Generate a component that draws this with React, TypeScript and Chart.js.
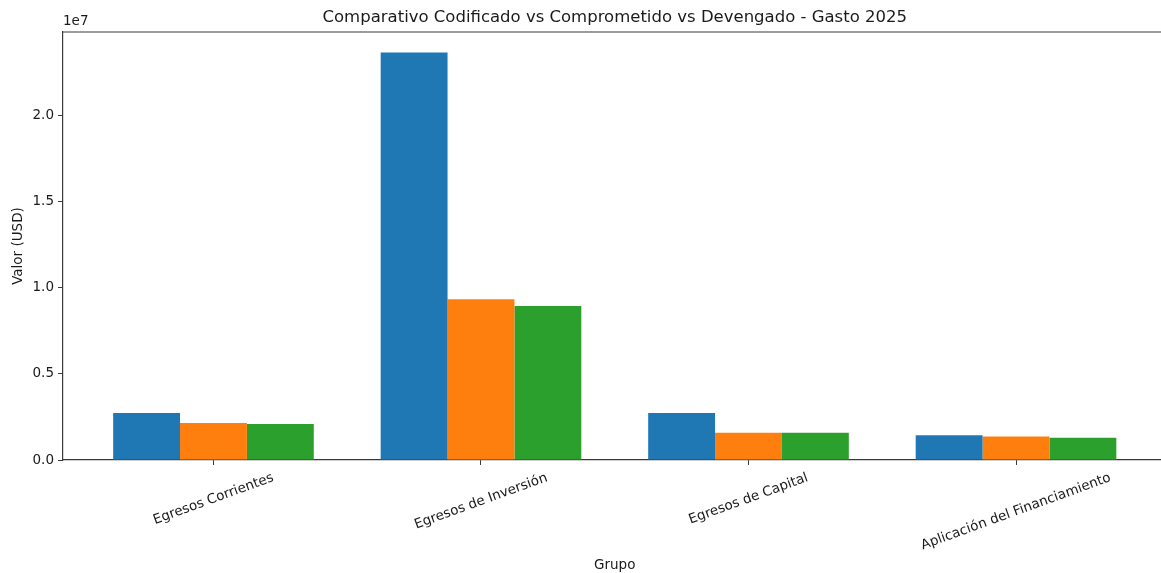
import React, { useEffect, useRef } from 'react';
import { Chart, registerables } from 'chart.js';

Chart.register(...registerables);

const categories = ['Egresos Corrientes', 'Egresos de Inversión', 'Egresos de Capital', 'Aplicación del Financiamiento'];
const codificado = [2720000, 23650000, 2720000, 1430000];
const comprometido = [2140000, 9320000, 1580000, 1370000];
const devengado = [2090000, 8930000, 1580000, 1290000];
const seriesNames = ['Codificado', 'Comprometido', 'Devengado'];
const seriesColors = ['#1f77b4', '#ff7f0e', '#2ca02c'];
const yTickValues = [0, 5e6, 1e7, 1.5e7, 2e7];
const titleText = 'Comparativo Codificado vs Comprometido vs Devengado - Gasto 2025';
const yLabel = 'Valor (USD)';
const xLabel = 'Grupo';
const offsetText = '1e7';

const FONT = "'DejaVu Sans', sans-serif";
const TEXT = '#1a1a1a';
const SPINE = '#3a3a3a';

export default function App() {
  const ref = useRef<HTMLCanvasElement | null>(null);

  useEffect(() => {
    const canvas = ref.current;
    if (!canvas) return;
    document.body.style.margin = '0';
    document.body.style.overflow = 'hidden';

    const n = categories.length;
    const xMin = -0.375 - 0.05 * (n - 1 + 0.75);
    const xMax = n - 1 + 0.375 + 0.05 * (n - 1 + 0.75);
    const allValues = [...codificado, ...comprometido, ...devengado];
    const yMax = Math.max(...allValues) * 1.05;

    const decor = {
      id: 'decor',
      afterDraw(chart: any) {
        const { ctx, chartArea } = chart;
        const { left, right, top, bottom } = chartArea;
        ctx.save();
        // top and right spines
        ctx.strokeStyle = SPINE;
        ctx.lineWidth = 1.2;
        ctx.beginPath();
        ctx.moveTo(left, top);
        ctx.lineTo(right, top);
        ctx.lineTo(right, bottom);
        ctx.stroke();

        ctx.fillStyle = TEXT;
        // title
        ctx.font = `16.5px ${FONT}`;
        ctx.textAlign = 'center';
        ctx.textBaseline = 'bottom';
        ctx.fillText(titleText, (left + right) / 2, top - 6);

        // offset text
        ctx.font = `13.5px ${FONT}`;
        ctx.textAlign = 'left';
        ctx.textBaseline = 'bottom';
        ctx.fillText(offsetText, left, top - 4);

        // y label
        ctx.save();
        ctx.translate(18, (top + bottom) / 2);
        ctx.rotate(-Math.PI / 2);
        ctx.textAlign = 'center';
        ctx.textBaseline = 'middle';
        ctx.fillText(yLabel, 0, 0);
        ctx.restore();

        // x tick labels, rotated 20deg, centered bbox
        const xs = chart.scales.x;
        const ang = (20 * Math.PI) / 180;
        const h = 13.5 * 1.17;
        const labelTop = bottom + 10;
        categories.forEach((c, i) => {
          const px = xs.getPixelForValue(i);
          const w = ctx.measureText(c).width;
          const H = w * Math.sin(ang) + h * Math.cos(ang);
          const cy = labelTop + H / 2;
          ctx.save();
          ctx.translate(px, cy);
          ctx.rotate(-ang);
          ctx.textAlign = 'center';
          ctx.textBaseline = 'middle';
          ctx.fillText(c, 0, 0);
          ctx.restore();
        });

        // x label
        ctx.textAlign = 'center';
        ctx.textBaseline = 'middle';
        ctx.fillText(xLabel, (left + right) / 2, 565);
        ctx.restore();
      },
    };

    const datasets = [codificado, comprometido, devengado].map((vals, k) => ({
      label: seriesNames[k],
      data: vals.map((v, i) => ({ x: i, y: v })),
      backgroundColor: seriesColors[k],
      borderWidth: 0,
      categoryPercentage: 0.75,
      barPercentage: 1.0,
    }));

    const chart = new Chart(canvas, {
      type: 'bar',
      data: { datasets },
      options: {
        responsive: false,
        animation: false,
        maintainAspectRatio: false,
        layout: { padding: { left: 0, right: 5.5, top: 32, bottom: 0 } },
        plugins: {
          legend: { display: false },
          tooltip: { enabled: false },
          title: { display: false },
        },
        scales: {
          x: {
            type: 'linear',
            offset: false,
            min: xMin,
            max: xMax,
            afterBuildTicks: (s: any) => {
              s.ticks = categories.map((_, i) => ({ value: i }));
            },
            afterFit: (s: any) => {
              s.height = 113;
            },
            ticks: {
              callback: () => '',
              font: { family: FONT, size: 13.5 },
              color: TEXT,
              maxRotation: 0,
              minRotation: 0,
            },
            grid: {
              offset: false,
              drawOnChartArea: false,
              drawTicks: true,
              tickLength: 5,
              color: SPINE,
              lineWidth: 1,
            },
            border: { display: true, color: SPINE, width: 1.2 },
          },
          y: {
            type: 'linear',
            min: 0,
            max: yMax,
            afterBuildTicks: (s: any) => {
              s.ticks = yTickValues.map((v) => ({ value: v }));
            },
            afterFit: (s: any) => {
              s.width = 63;
            },
            ticks: {
              callback: (v: any) => (Number(v) / 1e7).toFixed(1),
              font: { family: FONT, size: 13.5 },
              color: TEXT,
              padding: 4,
            },
            grid: {
              drawOnChartArea: false,
              drawTicks: true,
              tickLength: 5,
              color: SPINE,
              lineWidth: 1,
            },
            border: { display: true, color: SPINE, width: 1.2 },
          },
        },
      },
      plugins: [decor],
    } as any);

    return () => chart.destroy();
  }, []);

  return (
    <div style={{ position: 'fixed', left: 0, top: 0, width: 1161, height: 573, overflow: 'hidden', background: '#fff' }}>
      <canvas ref={ref} width={1172} height={573} style={{ display: 'block', width: 1172, height: 573 }} />
    </div>
  );
}
